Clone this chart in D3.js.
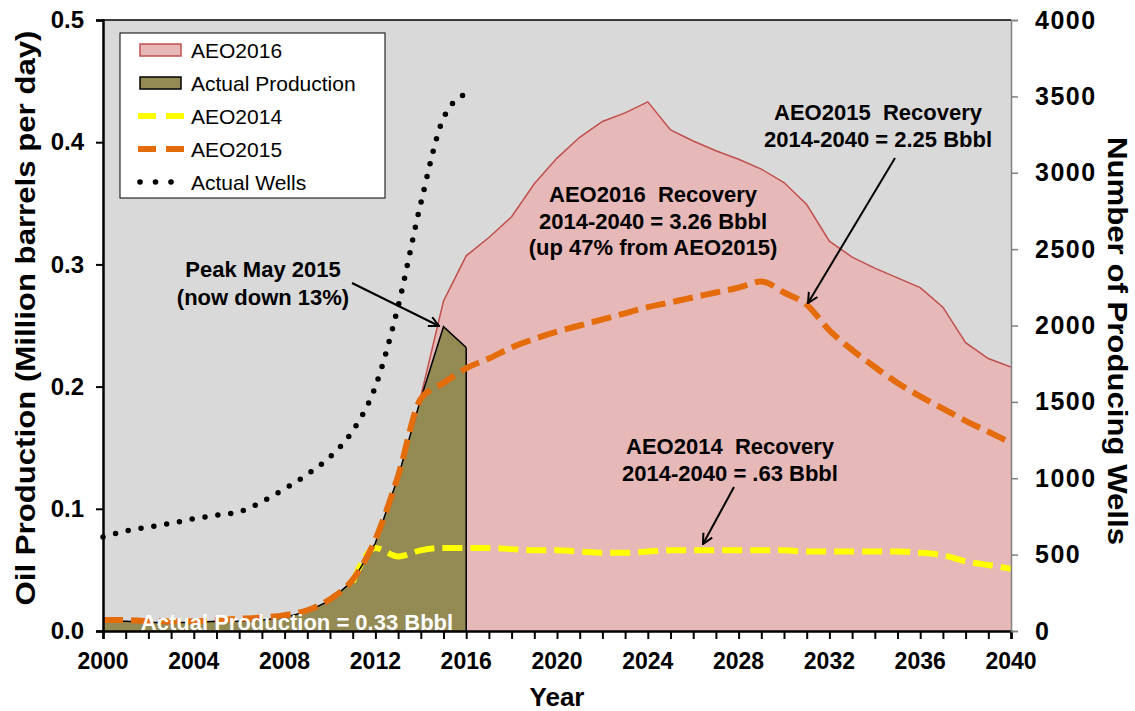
<!DOCTYPE html>
<html><head><meta charset="utf-8">
<script src="https://cdn.jsdelivr.net/npm/d3@7"></script>
<style>
body{margin:0;background:#fff;}
text{font-family:"Liberation Sans",Arial,sans-serif;}
</style></head>
<body><svg id="c" width="1135" height="711"></svg>
<script>
// ---- data ----
const prodYears = [2000,2001,2002,2003,2004,2005,2006,2007,2008,2009,2010,2011,2012,2013,2014,2015,2016];
const prodValues = [0.008,0.008,0.007,0.007,0.007,0.008,0.008,0.009,0.011,0.016,0.025,0.041,0.072,0.126,0.19,0.249,0.232];

const aeo2016Years = [2014,2015,2016,2017,2018,2019,2020,2021,2022,2023,2024,2025,2026,2027,2028,2029,2030,2031,2032,2033,2034,2035,2036,2037,2038,2039,2040];
const aeo2016Values = [0.192,0.270,0.307,0.322,0.339,0.366,0.387,0.404,0.417,0.424,0.433,0.410,0.401,0.393,0.386,0.378,0.367,0.349,0.319,0.306,0.297,0.289,0.281,0.265,0.236,0.223,0.216];

const aeo2015Years = [2000,2001,2002,2003,2004,2005,2006,2007,2008,2009,2010,2011,2012,2013,2014,2015,2016,2017,2018,2019,2020,2021,2022,2023,2024,2025,2026,2027,2028,2029,2030,2031,2032,2033,2034,2035,2036,2037,2038,2039,2040];
const aeo2015Values = [0.009,0.009,0.008,0.008,0.008,0.009,0.010,0.011,0.013,0.017,0.026,0.042,0.075,0.127,0.190,0.203,0.215,0.223,0.232,0.239,0.245,0.250,0.255,0.260,0.265,0.269,0.273,0.277,0.281,0.286,0.277,0.267,0.246,0.230,0.216,0.203,0.192,0.182,0.172,0.163,0.154];

const aeo2014Years = [2011,2012,2013,2014,2015,2016,2017,2018,2019,2020,2021,2022,2023,2024,2025,2026,2027,2028,2029,2030,2031,2032,2033,2034,2035,2036,2037,2038,2039,2040];
const aeo2014Values = [0.040,0.068,0.061,0.066,0.068,0.068,0.068,0.067,0.066,0.066,0.065,0.064,0.064,0.065,0.066,0.066,0.066,0.066,0.066,0.066,0.065,0.065,0.065,0.065,0.065,0.064,0.062,0.057,0.054,0.051];

const wellYears = [2000,2001,2002,2003,2004,2005,2006,2007,2008,2009,2010,2011,2012,2013,2014,2015,2016];
const wellCounts = [616,655,680,705,735,758,780,846,930,1025,1140,1310,1600,2125,2800,3357,3520];

const leftTicks = [0,0.1,0.2,0.3,0.4,0.5];
const rightTicks = [0,500,1000,1500,2000,2500,3000,3500,4000];
const xLabelYears = [2000,2004,2008,2012,2016,2020,2024,2028,2032,2036,2040];

// ---- layout ----
const svg = d3.select("#c");
const L=103, R=1011, T=20, B=631;
const x = d3.scaleLinear().domain([2000,2040]).range([L,R]);
const y = d3.scaleLinear().domain([0,0.5]).range([B,T]);
const y2 = d3.scaleLinear().domain([0,4000]).range([B,T]);

const defs = svg.append("defs");
defs.append("clipPath").attr("id","plot").append("rect").attr("x",L).attr("y",T).attr("width",R-L).attr("height",B-T);
defs.append("marker").attr("id","arr").attr("viewBox","0 0 12 12").attr("refX",11).attr("refY",6)
  .attr("markerWidth",12).attr("markerHeight",12).attr("markerUnits","userSpaceOnUse").attr("orient","auto")
  .append("path").attr("d","M1,1 L11,6 L1,11").attr("fill","none").attr("stroke","#000").attr("stroke-width",2);

svg.append("rect").attr("x",L).attr("y",T).attr("width",R-L).attr("height",B-T).attr("fill","#D9D9D9");

const g = svg.append("g").attr("clip-path","url(#plot)");

// AEO2016 area
const a16 = aeo2016Years.map((d,i)=>[d,aeo2016Values[i]]);
g.append("path").datum(a16)
  .attr("d", d3.area().x(d=>x(d[0])).y0(y(0)).y1(d=>y(d[1])))
  .attr("fill","#E6B8B7");
g.append("path").datum(a16)
  .attr("d", d3.line().x(d=>x(d[0])).y(d=>y(d[1])))
  .attr("fill","none").attr("stroke","#C0504D").attr("stroke-width",1.5);

// Actual production area
const pr = prodYears.map((d,i)=>[d,prodValues[i]]);
g.append("path").datum(pr)
  .attr("d", d3.area().x(d=>x(d[0])).y0(y(0)).y1(d=>y(d[1])))
  .attr("fill","#948A54");

// AEO2014
g.append("path").datum(aeo2014Years.map((d,i)=>[d,aeo2014Values[i]]))
  .attr("d", d3.line().curve(d3.curveMonotoneX).x(d=>x(d[0])).y(d=>y(d[1])))
  .attr("fill","none").attr("stroke","#FFFF00").attr("stroke-width",6).attr("stroke-dasharray","20,8");

g.append("path").datum(pr)
  .attr("d", d3.line().x(d=>x(d[0])).y(d=>y(d[1])))
  .attr("fill","none").attr("stroke","#000").attr("stroke-width",1.5);
g.append("line").attr("x1",x(2016)).attr("x2",x(2016)).attr("y1",y(prodValues[prodValues.length-1])).attr("y2",y(0))
  .attr("stroke","#000").attr("stroke-width",1.5);

// AEO2015
g.append("path").datum(aeo2015Years.map((d,i)=>[d,aeo2015Values[i]]))
  .attr("d", d3.line().curve(d3.curveMonotoneX).x(d=>x(d[0])).y(d=>y(d[1])))
  .attr("fill","none").attr("stroke","#E46C0A").attr("stroke-width",6).attr("stroke-dasharray","20,8");
// Wells
svg.append("path").datum(wellYears.map((d,i)=>[d,wellCounts[i]]))
  .attr("d", d3.line().curve(d3.curveMonotoneX).x(d=>x(d[0])).y(d=>y2(d[1])))
  .attr("fill","none").attr("stroke","#000").attr("stroke-width",5.5).attr("stroke-linecap","round").attr("stroke-dasharray","0,13");

// plot border
svg.append("line").attr("x1",L).attr("x2",R).attr("y1",T).attr("y2",T).attr("stroke","#000").attr("stroke-width",1.5);

// axes
const xAxis = svg.append("g").attr("transform",`translate(0,${B})`)
  .call(d3.axisBottom(x).tickValues(d3.range(2000,2041,1)).tickSize(8).tickFormat(""));
xAxis.select(".domain").attr("stroke","#000").attr("stroke-width",2.5);
xAxis.selectAll(".tick line").attr("stroke","#000").attr("stroke-width",2);
svg.append("g").selectAll("text").data(xLabelYears).join("text")
  .attr("x",d=>x(d)).attr("y",669).attr("text-anchor","middle")
  .attr("font-size",23).attr("font-weight","bold").text(d=>d);

const yAxis = svg.append("g").attr("transform",`translate(${L},0)`)
  .call(d3.axisLeft(y).tickValues(leftTicks).tickSize(7).tickFormat(d3.format(".1f")).tickPadding(12));
yAxis.select(".domain").attr("stroke","#000").attr("stroke-width",2.5);
yAxis.selectAll(".tick line").attr("stroke","#000").attr("stroke-width",2);
yAxis.selectAll(".tick text").attr("font-size",24).attr("font-weight","bold").attr("fill","#000")
  .style("font-family","'Liberation Sans',Arial,sans-serif");

const y2Axis = svg.append("g").attr("transform",`translate(${R},0)`)
  .call(d3.axisRight(y2).tickValues(rightTicks).tickSize(7).tickPadding(17).tickFormat(d3.format("d")));
y2Axis.select(".domain").attr("stroke","#808080").attr("stroke-width",1.5);
y2Axis.selectAll(".tick line").attr("stroke","#808080").attr("stroke-width",1.5);
y2Axis.selectAll(".tick text").attr("font-size",25).attr("font-weight","bold").attr("fill","#000")
  .attr("letter-spacing",1.5).style("font-family","'Liberation Sans',Arial,sans-serif");

// axis titles
svg.append("text").attr("transform","translate(35,318) rotate(-90)").attr("text-anchor","middle")
  .attr("font-size",28).attr("font-weight","bold").attr("textLength",575).attr("lengthAdjust","spacingAndGlyphs")
  .text("Oil Production (Million barrels per day)");
svg.append("text").attr("transform","translate(1108,341) rotate(90)").attr("text-anchor","middle")
  .attr("font-size",28).attr("font-weight","bold").attr("textLength",408).attr("lengthAdjust","spacingAndGlyphs")
  .text("Number of Producing Wells");
svg.append("text").attr("x",557).attr("y",706).attr("text-anchor","middle")
  .attr("font-size",26).attr("font-weight","bold").text("Year");

// annotations
function multi(cx, ys, lines, size){
  lines.forEach((t,i)=>svg.append("text").attr("x",cx).attr("y",ys[i]).attr("text-anchor","middle")
    .attr("font-size",size).attr("font-weight","bold").attr("fill","#000").text(t));
}
multi(263,[277,305],["Peak May 2015","(now down 13%)"],22);
multi(653,[202,229,255],["AEO2016\u00A0 Recovery","2014-2040 = 3.26 Bbbl","(up 47% from AEO2015)"],22);
multi(878,[120,147],["AEO2015\u00A0 Recovery","2014-2040 = 2.25 Bbbl"],22);
multi(730,[454,481],["AEO2014\u00A0 Recovery","2014-2040 = .63 Bbbl"],22);
svg.append("text").attr("x",297).attr("y",630).attr("text-anchor","middle").attr("font-size",22)
  .attr("font-weight","bold").attr("fill","#fff").text("Actual Production = 0.33 Bbbl");

function arrow(x1,y1,x2,y2){
  svg.append("line").attr("x1",x1).attr("y1",y1).attr("x2",x2).attr("y2",y2)
    .attr("stroke","#000").attr("stroke-width",2).attr("marker-end","url(#arr)");
}
arrow(352,283,439,326);
arrow(895,158,808,303);
arrow(734,487,703,544);

// legend
const lg = svg.append("g");
lg.append("rect").attr("x",120).attr("y",33).attr("width",265).attr("height",165).attr("fill","#fff").attr("stroke","#000").attr("stroke-width",1);
const items = ["AEO2016","Actual Production","AEO2014","AEO2015","Actual Wells"];
const ly = [50,83,116,149,182];
items.forEach((t,i)=>lg.append("text").attr("x",191).attr("y",ly[i]+8).attr("font-size",21).attr("fill","#000").text(t));
lg.append("rect").attr("x",140).attr("y",ly[0]-6).attr("width",41).attr("height",12).attr("fill","#E6B8B7").attr("stroke","#C0504D").attr("stroke-width",1.5);
lg.append("rect").attr("x",140).attr("y",ly[1]-6).attr("width",41).attr("height",12).attr("fill","#948A54").attr("stroke","#000").attr("stroke-width",1.5);
lg.append("line").attr("x1",138).attr("x2",184).attr("y1",ly[2]).attr("y2",ly[2]).attr("stroke","#FFFF00").attr("stroke-width",6).attr("stroke-dasharray","18,10");
lg.append("line").attr("x1",138).attr("x2",184).attr("y1",ly[3]).attr("y2",ly[3]).attr("stroke","#E46C0A").attr("stroke-width",6).attr("stroke-dasharray","18,10");
lg.selectAll("circle.ld").data([140,155.5,171]).join("circle").attr("class","ld")
  .attr("cx",d=>d).attr("cy",ly[4]).attr("r",2.8).attr("fill","#000");
</script></body></html>
